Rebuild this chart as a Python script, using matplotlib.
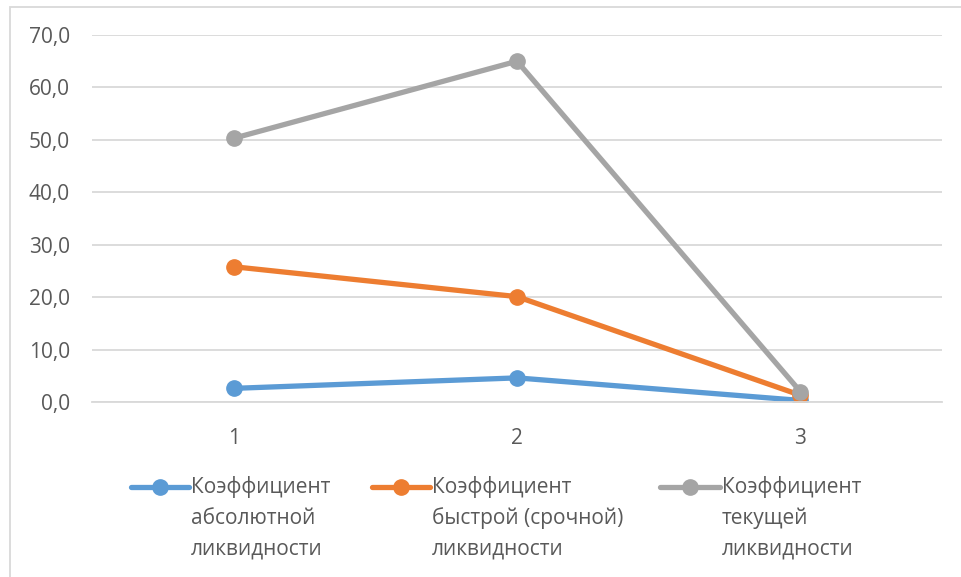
import matplotlib.pyplot as plt
from matplotlib.lines import Line2D
from matplotlib.patches import Rectangle

periods = [1, 2, 3]
absolute = [2.6, 4.6, 0.3]
quick = [25.8, 20.1, 1.3]
current = [50.3, 65.0, 2.0]
labels = ['Коэффициент\nабсолютной\nликвидности',
          'Коэффициент\nбыстрой (срочной)\nликвидности',
          'Коэффициент\nтекущей\nликвидности']
colors = ['#5b9bd5', '#ed7d31', '#a5a5a5']

plt.rcParams['font.family'] = ['Open Sans', 'DejaVu Sans']
text_color = '#595959'
W, H = 962, 577

fig = plt.figure(figsize=(W / 100, H / 100), dpi=100)
ax = fig.add_axes([92 / W, 1 - 402 / H, 850 / W, 367 / H])

for vals, c in zip([absolute, quick, current], colors):
    ax.plot(periods, vals, color=c, lw=3.8, marker='o', ms=11,
            solid_capstyle='round')

ax.set_xlim(0.5, 3.5)
ax.set_ylim(0, 70)
ax.set_yticks(range(0, 71, 10))
ax.set_yticklabels([f'{v},0' for v in range(0, 71, 10)])
ax.set_xticks(periods)
ax.grid(axis='y', color='#d9d9d9', lw=1.3)
ax.set_axisbelow(True)
for s in ['top', 'right', 'left']:
    ax.spines[s].set_visible(False)
ax.spines['bottom'].set_color('#d9d9d9')
ax.spines['bottom'].set_linewidth(1.3)
ax.tick_params(length=0, labelsize=15, colors=text_color)
ax.tick_params(axis='x', pad=19)
ax.tick_params(axis='y', pad=16)

# legend drawn by hand: handle aligned with the first line of each label
handle_x = [(131, 189), (372, 430), (660, 720)]
row_y = [487, 518, 549]
for (x0, x1), c, lab in zip(handle_x, colors, labels):
    fig.add_artist(Line2D([x0 / W, x1 / W], [1 - row_y[0] / H] * 2,
                          color=c, lw=3.8, solid_capstyle='round'))
    fig.add_artist(Line2D([(x0 + x1) / 2 / W], [1 - row_y[0] / H],
                          color=c, marker='o', ms=11))
    for line, y in zip(lab.split('\n'), row_y):
        fig.text((x1 + 2) / W, 1 - y / H, line, fontsize=15,
                 color=text_color, va='center', ha='left')

fig.patches.append(Rectangle((10 / W, -0.01), 1, 1 - 7 / H + 0.01,
                             transform=fig.transFigure, fill=False,
                             edgecolor='#d9d9d9', lw=1.3))

fig.savefig('out.png', dpi=100)
